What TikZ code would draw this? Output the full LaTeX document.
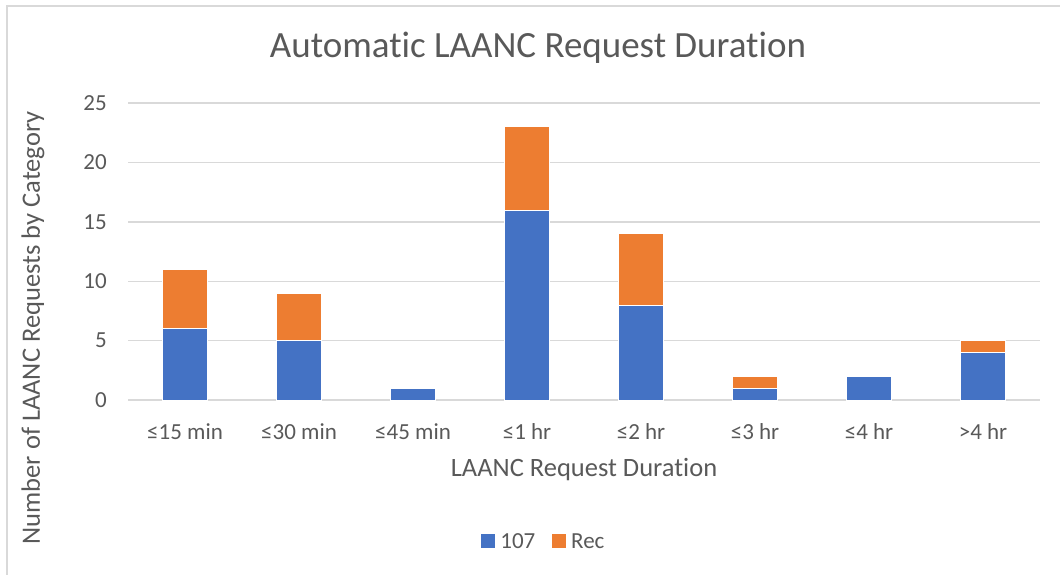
\documentclass[tikz,border=0pt]{standalone}
\usepackage{fontspec}
\setmainfont{Carlito}[Ligatures=NoCommon]
\usepackage{xcolor}
\definecolor{barblue}{HTML}{4472C4}
\definecolor{barorange}{HTML}{ED7D31}
\definecolor{textgray}{HTML}{595959}
\definecolor{gridgray}{HTML}{D9D9D9}
\usetikzlibrary{positioning}

\begin{document}
\begin{tikzpicture}[x=1pt, y=-1pt,
    gridline/.style={draw=gridgray, line width=1.4pt},
    ticklabel/.style={text=textgray, inner sep=2pt, font=\fontsize{23}{27}\selectfont},
    axistitle/.style={text=textgray, inner sep=2pt, font=\fontsize{26.5}{31}\selectfont},
    bar/.style={draw=white, line width=0.8pt},
    legsq/.style={minimum size=14pt, inner sep=0pt}]
  \useasboundingbox (0,0) rectangle (1060,575);
  % chart frame
  \draw[gridgray, line width=1.5pt] (7,575) -- (7,6) -- (1060,6);
  \node[text=textgray, font=\fontsize{37}{44}\selectfont] (title) at (538,48) {Automatic LAANC Request Duration};

  % grid and value axis
  \foreach \v in {0,5,...,25} {
    \draw[gridline] (128,{400-11.88*\v}) -- (1040,{400-11.88*\v});
    \node[ticklabel, anchor=east] (tick\v) at (109,{400-11.88*\v}) {\v};
  }

  % stacked bars: label / 107 / Rec
  \foreach \lab/\a/\b [count=\i] in {{≤15 min}/6/5, {≤30 min}/5/4, {≤45 min}/1/0, {≤1 hr}/16/7,
      {≤2 hr}/8/6, {≤3 hr}/1/1, {≤4 hr}/2/0, {>4 hr}/4/1} {
    \pgfmathsetmacro{\cx}{128+114*(\i-0.5)}
    \fill[barblue, bar] (\cx-22.5,400) rectangle (\cx+22.5,{400-11.88*\a});
    \ifnum\b>0
      \fill[barorange, bar] (\cx-22.5,{400-11.88*\a}) rectangle (\cx+22.5,{400-11.88*(\a+\b)});
    \fi
    \node[ticklabel] (cat\i) at (\cx,432) {\lab};
  }

  \node[axistitle] (xtitle) at (584,470) {LAANC Request Duration};
  \node[axistitle, rotate=90] (ytitle) at (33,328) {Number of LAANC Requests by Category};

  % legend
  \node[legsq, fill=barblue] (key107) at (488,541) {};
  \node[ticklabel, right=3pt of key107] (leg107) {107};
  \node[legsq, fill=barorange, right=14pt of leg107] (keyRec) {};
  \node[ticklabel, right=3pt of keyRec] (legRec) {Rec};
\end{tikzpicture}
\end{document}
